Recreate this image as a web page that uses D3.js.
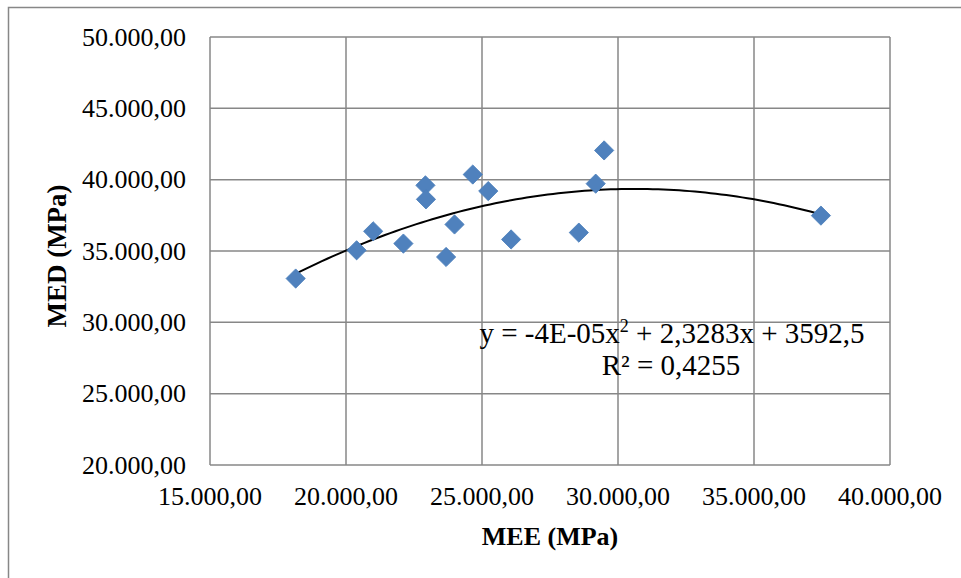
<!DOCTYPE html>
<html>
<head>
<meta charset="utf-8">
<script src="https://cdn.jsdelivr.net/npm/d3@7"></script>
<style>
  html, body { margin: 0; padding: 0; background: #fff; }
  svg { display: block; }
</style>
</head>
<body>
<svg id="chart" width="961" height="578"></svg>
<script>
// ---- data ----
const meeValues = [18150, 20390, 21000, 22110, 22920, 22940, 23680, 23990, 24660, 25230, 26070, 28560, 29180, 29490, 37460];
const medValues = [33070, 35050, 36380, 35520, 39600, 38620, 34580, 36860, 40360, 39200, 35810, 36290, 39720, 42050, 37480];
const xTickValues = [15000, 20000, 25000, 30000, 35000, 40000];
const yTickValues = [20000, 25000, 30000, 35000, 40000, 45000, 50000];
const xTitle = "MEE (MPa)";
const yTitle = "MED (MPa)";
const equationText = "y = -4E-05x";
const equationRest = " + 2,3283x + 3592,5";
const r2Text = "R² = 0,4255";

const FONT = "'Liberation Serif', 'Times New Roman', 'DejaVu Serif', serif";
const svg = d3.select("#chart").attr("font-family", FONT);

const locale = d3.formatLocale({ decimal: ",", thousands: ".", grouping: [3], currency: ["", ""] });
const fmt = locale.format(",.2f");

const x = d3.scaleLinear().domain([15000, 40000]).range([210, 890]);
const y = d3.scaleLinear().domain([20000, 50000]).range([465, 37]);

// outer chart border
svg.append("rect")
  .attr("x", 8.5).attr("y", 7.5)
  .attr("width", 1000).attr("height", 700)
  .attr("fill", "#fff")
  .attr("stroke", "#878787").attr("stroke-width", 1.5);

// gridlines
const grid = svg.append("g").attr("stroke", "#878787").attr("stroke-width", 1.5);
grid.selectAll("line.v").data(xTickValues).join("line")
  .attr("x1", d => x(d)).attr("x2", d => x(d))
  .attr("y1", y(20000)).attr("y2", y(50000));
grid.selectAll("line.h").data(yTickValues).join("line")
  .attr("y1", d => y(d)).attr("y2", d => y(d))
  .attr("x1", x(15000)).attr("x2", x(40000));

// tick labels
svg.append("g").selectAll("text").data(yTickValues).join("text")
  .attr("font-family", FONT)
  .attr("x", 186).attr("y", d => y(d)).attr("dy", "0.33em")
  .attr("text-anchor", "end").attr("font-size", 26)
  .text(d => fmt(d));
svg.append("g").selectAll("text").data(xTickValues).join("text")
  .attr("font-family", FONT)
  .attr("x", d => x(d)).attr("y", 505)
  .attr("text-anchor", "middle").attr("font-size", 26)
  .text(d => fmt(d));

// axis titles
svg.append("text")
  .attr("font-family", FONT)
  .attr("x", 550).attr("y", 545)
  .attr("text-anchor", "middle").attr("font-size", 26).attr("font-weight", "bold")
  .text(xTitle);
svg.append("text")
  .attr("font-family", FONT)
  .attr("transform", "translate(66,256) rotate(-90)")
  .attr("text-anchor", "middle").attr("font-size", 27).attr("font-weight", "bold")
  .text(yTitle);

// quadratic least-squares trendline computed from the data
function polyfit2(xs, ys) {
  const n = xs.length;
  const s = [0,0,0,0,0], t = [0,0,0];
  for (let i = 0; i < n; i++) {
    const xi = xs[i] / 10000, yi = ys[i];
    let p = 1;
    for (let k = 0; k < 5; k++) { s[k] += p; if (k < 3) t[k] += p * yi; p *= xi; }
  }
  const A = [[s[0], s[1], s[2], t[0]], [s[1], s[2], s[3], t[1]], [s[2], s[3], s[4], t[2]]];
  for (let i = 0; i < 3; i++) {
    for (let j = i + 1; j < 3; j++) {
      const f = A[j][i] / A[i][i];
      for (let k = i; k < 4; k++) A[j][k] -= f * A[i][k];
    }
  }
  const c = [0,0,0];
  for (let i = 2; i >= 0; i--) {
    let v = A[i][3];
    for (let k = i + 1; k < 3; k++) v -= A[i][k] * c[k];
    c[i] = v / A[i][i];
  }
  return xv => { const u = xv / 10000; return c[0] + c[1] * u + c[2] * u * u; };
}
const fit = polyfit2(meeValues, medValues);
const xMin = d3.min(meeValues), xMax = d3.max(meeValues);
const trendPts = d3.range(0, 101).map(i => {
  const xv = xMin + (xMax - xMin) * i / 100;
  return [xv, fit(xv)];
});
svg.append("path")
  .datum(trendPts)
  .attr("fill", "none").attr("stroke", "#000").attr("stroke-width", 2)
  .attr("d", d3.line().x(d => x(d[0])).y(d => y(d[1])));

// points (diamonds)
const pts = meeValues.map((v, i) => [v, medValues[i]]);
svg.append("g").selectAll("path").data(pts).join("path")
  .attr("transform", d => `translate(${x(d[0])},${y(d[1])}) rotate(45)`)
  .attr("d", d3.symbol(d3.symbolSquare, 185)())
  .attr("fill", "#4F81BD")
  .attr("stroke", "#4A7EBB").attr("stroke-width", 0.8);

// equation label
const eq = svg.append("text")
  .attr("font-family", FONT)
  .attr("x", 672).attr("y", 343)
  .attr("text-anchor", "middle").attr("font-size", 29);
eq.append("tspan").text(equationText);
eq.append("tspan").attr("font-size", 18).attr("dy", -11).text("2");
eq.append("tspan").attr("dy", 11).text(equationRest);
svg.append("text")
  .attr("font-family", FONT)
  .attr("x", 671).attr("y", 375)
  .attr("text-anchor", "middle").attr("font-size", 29)
  .text(r2Text);
</script>
</body>
</html>
